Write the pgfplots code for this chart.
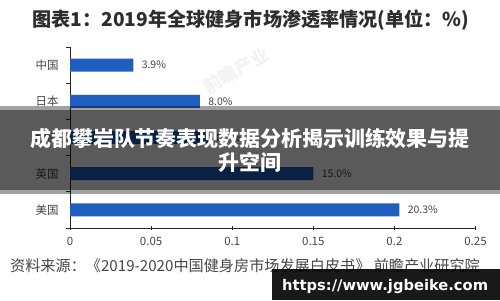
\documentclass[border=0pt]{standalone}
\usepackage{fontspec}
\usepackage{pgfplots}
\pgfplotsset{compat=1.18}
\setmainfont{Noto Sans CJK SC}
\newfontfamily\urlfont{DejaVu Sans}
\definecolor{barblue}{RGB}{31,94,191}
\definecolor{txtgray}{RGB}{70,70,70}
\definecolor{titlegray}{RGB}{45,45,45}
\begin{document}
\begin{tikzpicture}[x=1bp,y=1bp]
\useasboundingbox (0,0) rectangle (500,300);
\fill[white] (0,0) rectangle (500,300);
% faint publisher watermark behind the plot
\node[rotate=30, anchor=west, text=black!5, font=\fontsize{18}{18}\selectfont\bfseries] at (202,210) {前瞻产业};
% title
\node[text=titlegray, font=\fontsize{19.2}{19.2}\selectfont\bfseries] at (251,280) {图表1：2019年全球健身市场渗透率情况(单位：\%)};
\begin{axis}[
  at={(70bp,72bp)}, anchor=south west, scale only axis,
  width=405.5bp, height=181bp,
  xbar, bar width=13bp,
  xmin=0, xmax=0.25, ymin=-0.5, ymax=4.5,
  axis x line*=bottom, axis y line*=left,
  axis line style={black!85, line width=0.8bp},
  tick align=outside, major tick length=4bp,
  tick style={black!85, line width=0.8bp},
  xtick={0,0.05,0.1,0.15,0.2,0.25},
  xticklabels={0,0.05,0.1,0.15,0.2,0.25},
  x tick style={yshift=2bp},
  ytick={-0.5,0.5,1.5,2.5,3.5,4.5}, yticklabels={},
  extra y ticks={0,1,2,3,4},
  extra y tick labels={美国,英国,欧洲,日本,中国},
  extra y tick style={major tick length=0pt, yticklabel style={xshift=-8bp}},
  tick label style={text=txtgray, font=\fontsize{11.5}{11.5}\selectfont},
  xticklabel style={yshift=-2bp},
  point meta=explicit,
  nodes near coords={\pgfmathprintnumber[fixed,fixed zerofill,precision=1,assume math mode=true]{\pgfplotspointmeta}\%},
  nodes near coords align={horizontal},
  every node near coord/.append style={text=txtgray, font=\fontsize{10.5}{10.5}\selectfont, xshift=5bp},
  clip=false,
]
\addplot[fill=barblue, draw=none] coordinates {
  (0.203,0) [20.3]
  (0.150,1) [15.0]
  (0.085,2) [8.5]
  (0.080,3) [8.0]
  (0.039,4) [3.9]
};
\end{axis}
% source line
\node[anchor=base west, text=black!72, font=\fontsize{15.2}{15.2}\selectfont, inner sep=0] at (10,29) {资料来源：《2019-2020中国健身房市场发展白皮书》 前瞻产业研究院};
% headline banner across the middle
\fill[black, opacity=0.37] (0,106) rectangle (500,194);
\fill[black, opacity=0.44] (0,110) rectangle (500,190);
\node[align=center, text=white, font=\fontsize{21}{24}\selectfont\bfseries] at (250,150) {成都攀岩队节奏表现数据分析揭示训练效果与提\\升空间};
% site tag bottom right
\fill[black, opacity=0.9] (272,0) rectangle (500,31);
\node[anchor=base west, text=white, font=\urlfont\bfseries\fontsize{14.75}{14.75}\selectfont, inner sep=0] at (282,10) {https://www.jgbeike.com};
\end{tikzpicture}
\end{document}
